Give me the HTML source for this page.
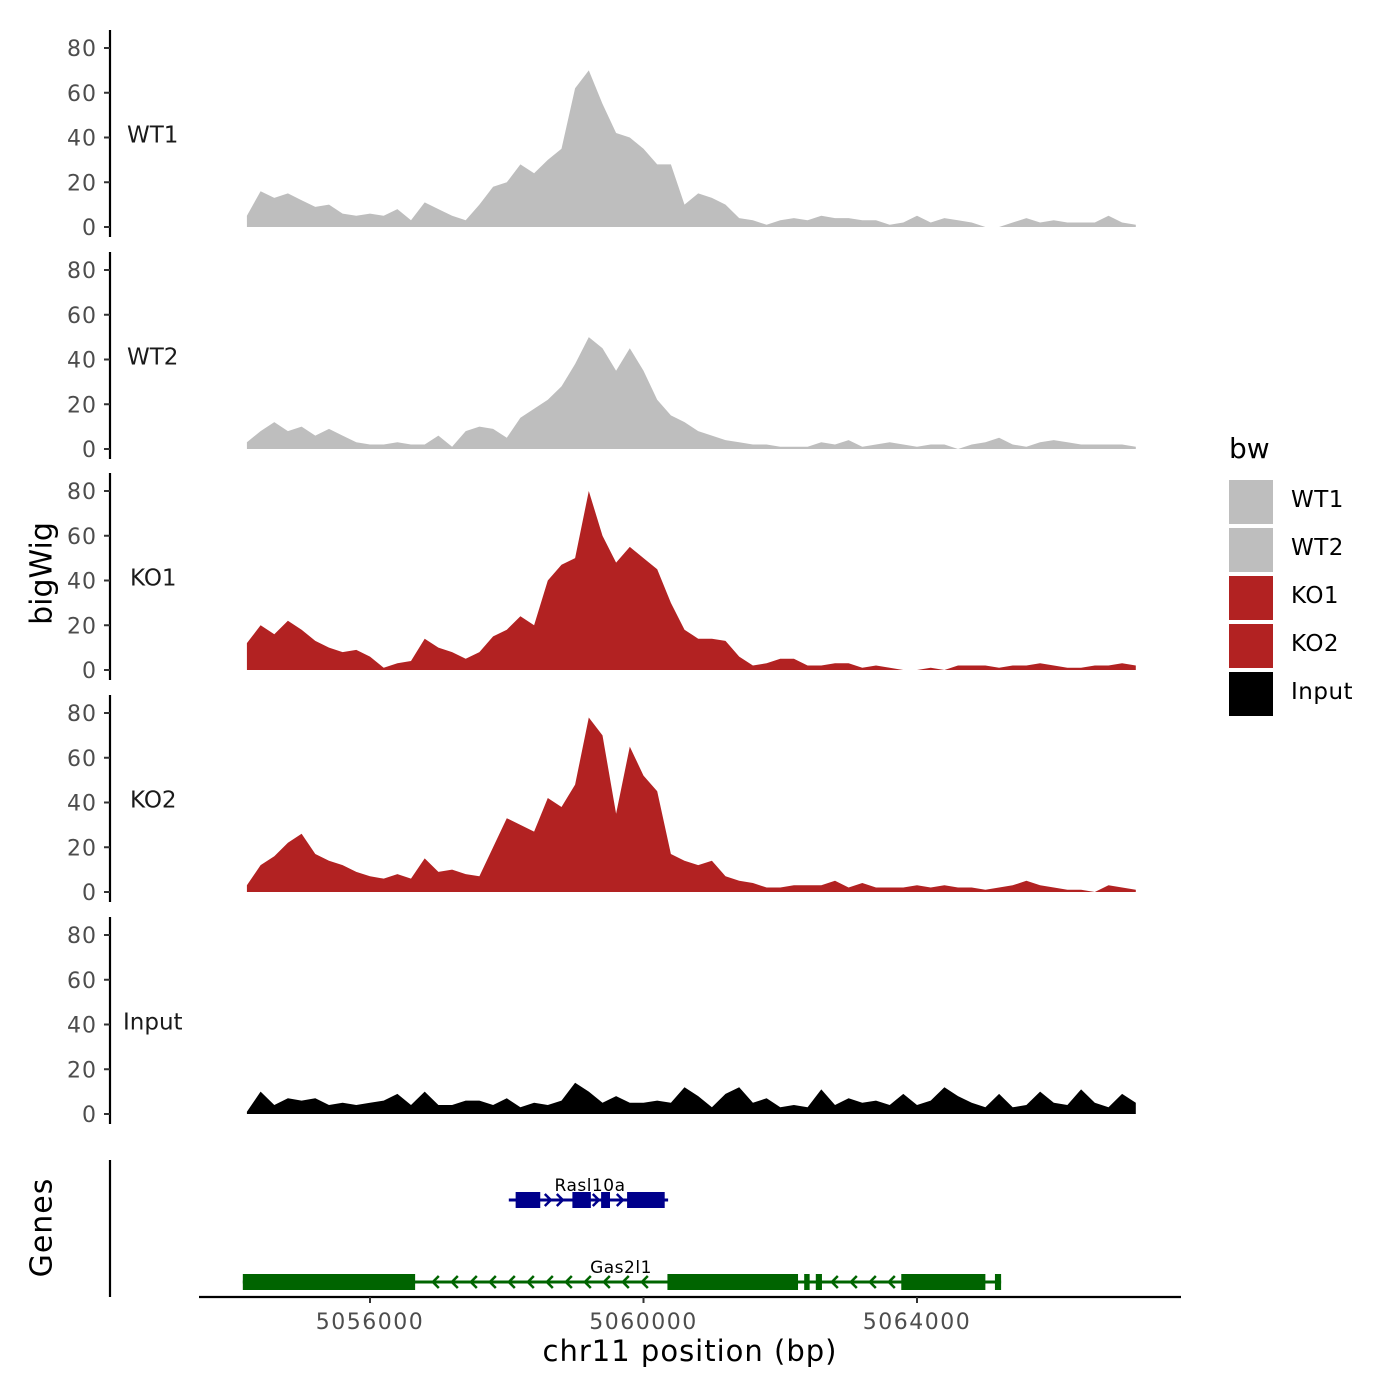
<!DOCTYPE html>
<html><head><meta charset="utf-8"><style>
body{margin:0;background:#fff}
svg{display:block;font-family:"DejaVu Sans","Liberation Sans",sans-serif}
</style></head><body>
<svg id="chart" width="1400" height="1400"></svg>
<script>
const positions=[];for(let i=0;i<66;i++)positions.push(5054200+i*200);
const tracks=["WT1","WT2","KO1","KO2","Input"];
const wt1=[5,16,13,15,12,9,10,6,5,6,5,8,3,11,8,5,3,10,18,20,28,24,30,35,62,70,55,42,40,35,28,28,10,15,13,10,4,3,1,3,4,3,5,4,4,3,3,1,2,5,2,4,3,2,0,0,2,4,2,3,2,2,2,5,2,1];
const wt2=[3,8,12,8,10,6,9,6,3,2,2,3,2,2,6,1,8,10,9,5,14,18,22,28,38,50,45,35,45,35,22,15,12,8,6,4,3,2,2,1,1,1,3,2,4,1,2,3,2,1,2,2,0,2,3,5,2,1,3,4,3,2,2,2,2,1];
const ko1=[12,20,16,22,18,13,10,8,9,6,1,3,4,14,10,8,5,8,15,18,24,20,40,47,50,80,60,48,55,50,45,30,18,14,14,13,6,2,3,5,5,2,2,3,3,1,2,1,0,0,1,0,2,2,2,1,2,2,3,2,1,1,2,2,3,2];
const ko2=[3,12,16,22,26,17,14,12,9,7,6,8,6,15,9,10,8,7,20,33,30,27,42,38,48,78,70,35,65,52,45,17,14,12,14,7,5,4,2,2,3,3,3,5,2,4,2,2,2,3,2,3,2,2,1,2,3,5,3,2,1,1,0,3,2,1];
const input=[1,10,4,7,6,7,4,5,4,5,6,9,4,10,4,4,6,6,4,7,3,5,4,6,14,10,5,8,5,5,6,5,12,8,3,9,12,5,7,3,4,3,11,4,7,5,6,4,9,4,6,12,8,5,3,9,3,4,10,5,4,11,5,3,9,5];
const seriesValues=[wt1,wt2,ko1,ko2,input];
const colors=["#bebebe","#bebebe","#b22222","#b22222","#000000"];
const yTicks=[0,20,40,60,80];
const xTicks=[5056000,5060000,5064000];
const rasExons=[[5058130,5058490],[5058960,5059230],[5059380,5059510],[5059760,5060310]];
const rasSpan=[5058030,5060360];
const gasExons=[[5054140,5056660],[5060350,5062260],[5062350,5062430],[5062520,5062610],[5063770,5065000],[5065140,5065230]];
const gasSpan=[5054140,5065230];

const NS="http://www.w3.org/2000/svg";
const svg=document.getElementById("chart");
function el(t,a,p){const e=document.createElementNS(NS,t);for(const k in a)e.setAttribute(k,a[k]);(p||svg).appendChild(e);return e;}
const xs=bp=>370+(bp-5056000)*(273.5/4000);
const base=[227,449,670,892,1114];
const ys=(i,v)=>base[i]-v*(179/80);

tracks.forEach((name,i)=>{
  const g=el("g",{});
  
  
  const vals=seriesValues[i];
  let d="M"+xs(positions[0])+","+base[i];
  vals.forEach((v,j)=>{d+=" L"+xs(positions[j]).toFixed(1)+","+ys(i,v).toFixed(1);});
  d+=" L"+xs(positions[positions.length-1])+","+base[i]+" Z";
  const p=el("path",{d:d,fill:colors[i]},g);
  
  
  const ax=el("line",{x1:110,x2:110,y1:base[i]-197,y2:base[i]+10,stroke:"#000","stroke-width":2.2},g);
  
  
  yTicks.forEach(t=>{
    el("line",{x1:104,x2:110,y1:ys(i,t),y2:ys(i,t),stroke:"#333","stroke-width":2},g);
    const tx=el("text",{x:97,y:ys(i,t)+8,"text-anchor":"end","font-size":22,"letter-spacing":1,fill:"#4d4d4d"},g);
    tx.textContent=t;
    
    
  });
  const lb=el("text",{x:name==="Input"?123:(name.startsWith("KO")?130:127),y:ys(i,40)+5,"font-size":23,fill:"#1a1a1a"},g);
  lb.textContent=name;
  
  
});

const gp=el("g",{});


el("line",{x1:110,x2:110,y1:1160,y2:1297,stroke:"#000","stroke-width":2.2},gp);
function gene(span,exons,y,color,dir,name,labX,step){
  const g=el("g",{},gp);
  
  
  el("line",{x1:xs(span[0]),x2:xs(span[1]),y1:y,y2:y,stroke:color,"stroke-width":3},g);
  for(let x=xs(span[0])+3;x<xs(span[1]);x+=step){
    const inEx=exons.some(e=>x>xs(e[0])-4&&x<xs(e[1])+4);
    if(inEx)continue;
    const d=dir>0?`M${x-3},${y-6} L${x+3},${y} L${x-3},${y+6}`:`M${x+3},${y-6} L${x-3},${y} L${x+3},${y+6}`;
    el("path",{d:d,stroke:color,"stroke-width":2.5,fill:"none"},g);
  }
  exons.forEach(e=>{const r=el("rect",{x:xs(e[0]),y:y-8,width:xs(e[1])-xs(e[0]),height:16,fill:color},g);
    
    });
  const t=el("text",{x:labX,y:y-9,"text-anchor":"middle","font-size":17,"letter-spacing":0.5,fill:"#000"},g);
  t.textContent=name;
}
gene(rasSpan,rasExons,1200,"#00008b",1,"Rasl10a",590,12);
gene(gasSpan,gasExons,1282,"#006400",-1,"Gas2l1",621,19);

const xa=el("g",{});


el("line",{x1:199,x2:1181,y1:1297,y2:1297,stroke:"#000","stroke-width":2.2},xa);
xTicks.forEach(t=>{
  el("line",{x1:xs(t),x2:xs(t),y1:1297,y2:1303,stroke:"#333","stroke-width":2},xa);
  const tx=el("text",{x:xs(t),y:1329,"text-anchor":"middle","font-size":22,"letter-spacing":1.5,fill:"#4d4d4d"},xa);
  tx.textContent=t;
  
  
});
</script>
<div style="position:absolute;left:0;top:0;width:1400px;height:1400px;pointer-events:none;font-family:'DejaVu Sans','Liberation Sans',sans-serif">
  <div style="position:absolute;left:440px;top:1334px;width:500px;text-align:center;font-size:29px;letter-spacing:1px;color:#000">chr11 position (bp)</div>
  <div style="position:absolute;left:-58px;top:556px;width:200px;text-align:center;font-size:30px;transform:rotate(-90deg)">bigWig</div>
  <div style="position:absolute;left:-58px;top:1210px;width:200px;text-align:center;font-size:30px;letter-spacing:1px;transform:rotate(-90deg)">Genes</div>
  <div style="position:absolute;left:1229px;top:432px">
    <div style="font-size:28px;height:48px">bw</div>
    <div style="position:absolute;top:48px;width:200px;height:44px"><div style="width:44px;height:44px;background:#bebebe"></div><span style="position:absolute;left:62px;top:7px;font-size:23px;letter-spacing:0.5px">WT1</span></div>
    <div style="position:absolute;top:96px;width:200px;height:44px"><div style="width:44px;height:44px;background:#bebebe"></div><span style="position:absolute;left:62px;top:7px;font-size:23px;letter-spacing:0.5px">WT2</span></div>
    <div style="position:absolute;top:144px;width:200px;height:44px"><div style="width:44px;height:44px;background:#b22222"></div><span style="position:absolute;left:62px;top:7px;font-size:23px;letter-spacing:0.5px">KO1</span></div>
    <div style="position:absolute;top:192px;width:200px;height:44px"><div style="width:44px;height:44px;background:#b22222"></div><span style="position:absolute;left:62px;top:7px;font-size:23px;letter-spacing:0.5px">KO2</span></div>
    <div style="position:absolute;top:240px;width:200px;height:44px"><div style="width:44px;height:44px;background:#000"></div><span style="position:absolute;left:62px;top:7px;font-size:23px;letter-spacing:0.5px">Input</span></div>
  </div>
</div>
</body></html>
